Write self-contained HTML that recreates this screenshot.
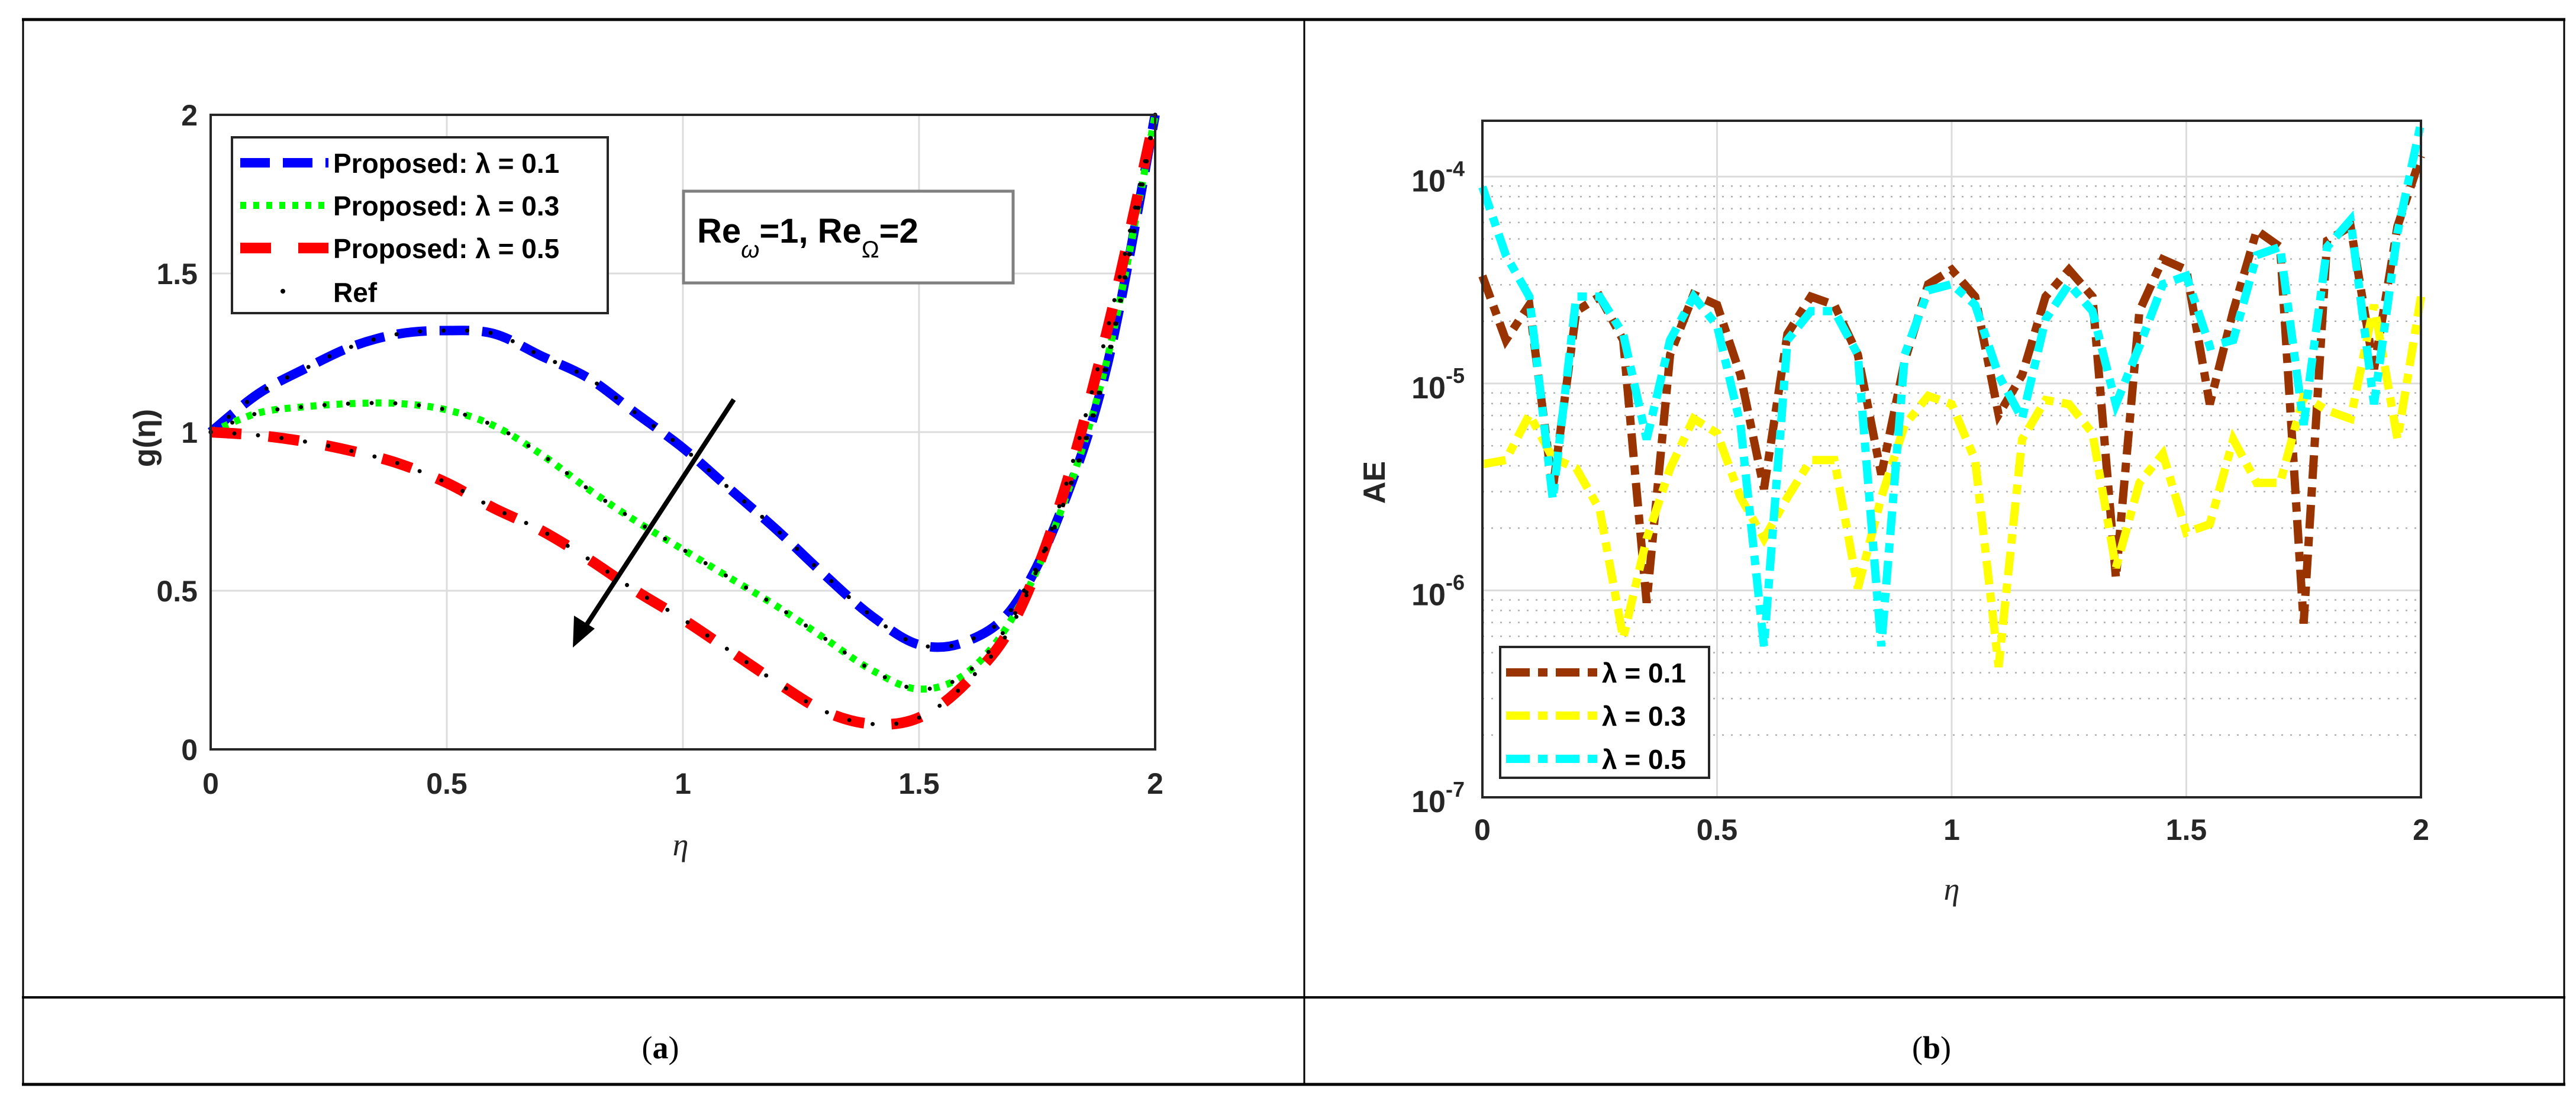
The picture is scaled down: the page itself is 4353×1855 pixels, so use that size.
<!DOCTYPE html>
<html><head><meta charset="utf-8"><style>
html,body{margin:0;padding:0;background:#fff;}
svg{display:block;font-family:"Liberation Sans",sans-serif;}
</style></head><body>
<svg id="fig" width="4353" height="1855" viewBox="0 0 4353 1855" xmlns="http://www.w3.org/2000/svg">
<g stroke="#000" fill="none">
<line x1="37" y1="33" x2="4335" y2="33" stroke-width="5"/>
<line x1="37" y1="1832" x2="4335" y2="1832" stroke-width="5"/>
<line x1="37" y1="1685" x2="4335" y2="1685" stroke-width="4"/>
<line x1="39" y1="31" x2="39" y2="1834" stroke-width="3"/>
<line x1="2204" y1="31" x2="2204" y2="1834" stroke-width="3"/>
<line x1="4333" y1="31" x2="4333" y2="1834" stroke-width="3"/>
</g>
<text x="1116" y="1788" font-family="Liberation Serif,serif" font-size="54" text-anchor="middle">(<tspan font-weight="bold">a</tspan>)</text>
<text x="3264" y="1788" font-family="Liberation Serif,serif" font-size="54" text-anchor="middle">(<tspan font-weight="bold">b</tspan>)</text>
<g id="plotA"></g>
<g id="plotB"></g>
</svg>
<script>
// ---- Plot A data ----
const etaA = [0,0.1,0.2,0.3,0.4,0.5,0.6,0.7,0.8,0.9,1.0,1.1,1.2,1.3,1.4,1.5,1.6,1.7,1.8,1.9,2.0];
const gL01 = [1.0,1.12,1.20,1.27,1.31,1.32,1.31,1.24,1.17,1.06,0.95,0.82,0.69,0.55,0.42,0.33,0.34,0.45,0.75,1.22,2.0];
const gL03 = [1.0,1.06,1.08,1.09,1.09,1.07,1.02,0.93,0.82,0.72,0.63,0.54,0.45,0.35,0.25,0.19,0.24,0.42,0.75,1.24,2.0];
const gL05 = [1.0,0.99,0.97,0.94,0.90,0.84,0.76,0.69,0.60,0.50,0.41,0.31,0.21,0.12,0.08,0.10,0.21,0.40,0.78,1.33,2.0];
const xTicksA = [0,0.5,1,1.5,2];
const yTicksA = [0,0.5,1,1.5,2];
const xTickLabelsA = ["0","0.5","1","1.5","2"];
const yTickLabelsA = ["0","0.5","1","1.5","2"];
// ---- Plot B data (log10 of AE) ----
const etaB = [0,0.05,0.1,0.15,0.2,0.25,0.3,0.35,0.4,0.45,0.5,0.55,0.6,0.65,0.7,0.75,0.8,0.85,0.9,0.95,1.0,1.05,1.1,1.15,1.2,1.25,1.3,1.35,1.4,1.45,1.5,1.55,1.6,1.65,1.7,1.75,1.8,1.85,1.9,1.95,2.0];
const aeLogL01 = [-4.48,-4.79,-4.62,-5.51,-4.65,-4.58,-4.79,-6.06,-4.86,-4.57,-4.62,-4.96,-5.51,-4.76,-4.58,-4.62,-4.86,-5.44,-4.89,-4.52,-4.45,-4.58,-5.15,-4.96,-4.58,-4.45,-4.58,-5.94,-4.65,-4.40,-4.45,-5.10,-4.65,-4.26,-4.34,-6.16,-4.31,-4.24,-4.93,-4.24,-3.90];
const aeLogL03 = [-5.39,-5.37,-5.15,-5.36,-5.41,-5.61,-6.23,-5.75,-5.41,-5.17,-5.24,-5.55,-5.75,-5.55,-5.37,-5.37,-5.99,-5.55,-5.20,-5.06,-5.10,-5.37,-6.37,-5.27,-5.08,-5.10,-5.24,-5.89,-5.48,-5.34,-5.72,-5.68,-5.27,-5.48,-5.48,-5.06,-5.13,-5.17,-4.62,-5.27,-4.58];
const aeLogL05 = [-4.05,-4.38,-4.58,-5.56,-4.58,-4.58,-4.76,-5.27,-4.79,-4.58,-4.72,-5.20,-6.27,-4.79,-4.65,-4.65,-4.86,-6.27,-4.86,-4.55,-4.52,-4.62,-4.96,-5.17,-4.69,-4.52,-4.65,-5.10,-4.82,-4.52,-4.48,-4.82,-4.79,-4.38,-4.34,-5.20,-4.34,-4.21,-5.10,-4.27,-3.74];
const yDecadesB = [-7,-6,-5,-4];
const xTicksB = [0,0.5,1,1.5,2];
const xTickLabelsB = ["0","0.5","1","1.5","2"];

const NS="http://www.w3.org/2000/svg";
function mk(parent,tag,attrs,text){const e=document.createElementNS(NS,tag);for(const k in attrs)e.setAttribute(k,attrs[k]);if(text!==undefined)e.textContent=text;parent.appendChild(e);return e;}

// ================= Plot A =================
const A=document.getElementById('plotA');
const AL=356,AR=1952,AT=194,AB=1266;
const ax=v=>AL+(v-0)/(2-0)*(AR-AL);
const ay=v=>AB-(v-0)/(2-0)*(AB-AT);
mk(A,'rect',{x:AL,y:AT,width:AR-AL,height:AB-AT,fill:'#fff'});
xTicksA.forEach((t,i)=>{
  const g=mk(A,'line',{x1:ax(t),y1:AT,x2:ax(t),y2:AB,stroke:'#dcdcdc','stroke-width':3});
  
  
  const l=mk(A,'text',{x:ax(t),y:AB+75,'font-size':50,'font-weight':'bold','text-anchor':'middle',fill:'#262626'},xTickLabelsA[i]);
  
  
});
yTicksA.forEach((t,i)=>{
  const g=mk(A,'line',{x1:AL,y1:ay(t),x2:AR,y2:ay(t),stroke:'#dcdcdc','stroke-width':3});
  
  
  const l=mk(A,'text',{x:AL-22,y:ay(t)+18,'font-size':50,'font-weight':'bold','text-anchor':'end',fill:'#262626'},yTickLabelsA[i]);
  
  
});
function smoothPath(xs,ys,fx,fy){
  const p=xs.map((x,i)=>[fx(x),fy(ys[i])]);
  let d=`M${p[0][0]},${p[0][1]}`;
  for(let i=0;i<p.length-1;i++){
    const p0=p[i-1]||p[i],p1=p[i],p2=p[i+1],p3=p[i+2]||p2;
    const c1=[p1[0]+(p2[0]-p0[0])/6,p1[1]+(p2[1]-p0[1])/6];
    const c2=[p2[0]-(p3[0]-p1[0])/6,p2[1]-(p3[1]-p1[1])/6];
    d+=` C${c1[0]},${c1[1]} ${c2[0]},${c2[1]} ${p2[0]},${p2[1]}`;
  }
  return d;
}
const seriesA=[
  {ys:gL01,color:'#0000ff',dash:'50 22',w:16,name:'curve-lambda-0-1'},
  {ys:gL03,color:'#00ff00',dash:'10 12',w:12,name:'curve-lambda-0-3'},
  {ys:gL05,color:'#ff0000',dash:'52 46',w:18,name:'curve-lambda-0-5'}
];
seriesA.forEach(s=>{
  const p=mk(A,'path',{d:smoothPath(etaA,s.ys,ax,ay),fill:'none',stroke:s.color,'stroke-width':s.w,'stroke-dasharray':s.dash});
  
  
});
// reference dots along each curve (sampled on smooth path)
seriesA.forEach(s=>{
  const tmp=mk(A,'path',{d:smoothPath(etaA,s.ys,ax,ay),fill:'none',stroke:'none'});
  const L=tmp.getTotalLength();
  const n=Math.round(L/40);
  for(let k=0;k<=n;k++){
    const pt=tmp.getPointAtLength(L*k/n);
    const c=mk(A,'circle',{cx:pt.x,cy:pt.y,r:3.5,fill:'#000'});
    
    
  }
  tmp.remove();
});
mk(A,'rect',{x:AL,y:AT,width:AR-AL,height:AB-AT,fill:'none',stroke:'#262626','stroke-width':4});
// arrow
const arr=mk(A,'g',{});


mk(arr,'line',{x1:1240,y1:675,x2:985,y2:1065,stroke:'#000','stroke-width':8});
mk(arr,'polygon',{points:'968,1094 970,1040 1005,1062',fill:'#000'});
// axis labels
mk(A,'text',{x:1150,y:1445,'font-size':54,'font-style':'italic','font-family':'Liberation Serif,serif','text-anchor':'middle',fill:'#262626',},'η');
mk(A,'text',{x:0,y:0,'font-size':52,'font-weight':'bold','text-anchor':'middle',fill:'#262626',transform:'translate(262,740) rotate(-90)',},'g(η)');
// legend A
const LA=mk(A,'g',{});
mk(LA,'rect',{x:392,y:232,width:635,height:297,fill:'#fff',stroke:'#262626','stroke-width':4});
const legA=[['Proposed:  λ = 0.1','#0000ff','50 22',16],['Proposed:  λ = 0.3','#00ff00','10 12',12],['Proposed:  λ = 0.5','#ff0000','52 46',18]];
legA.forEach((e,i)=>{
  const y=275+i*72;
  const g=mk(LA,'g',{});
  
  
  mk(g,'line',{x1:406,y1:y,x2:555,y2:y,stroke:e[1],'stroke-width':e[3],'stroke-dasharray':e[2]});
  mk(g,'text',{x:563,y:y+17,'font-size':46,'font-weight':'bold',fill:'#000'},e[0]);
});
mk(LA,'circle',{cx:478,cy:492,r:4,fill:'#000'});
mk(LA,'text',{x:563,y:510,'font-size':46,'font-weight':'bold',fill:'#000'},'Ref');
// annotation
const an=mk(A,'g',{});
mk(an,'rect',{x:1155,y:323,width:557,height:155,fill:'#fff',stroke:'#808080','stroke-width':5});
const t=mk(an,'text',{x:1178,y:410,'font-size':58,'font-weight':'bold',fill:'#000'});
t.innerHTML='Re<tspan dy="25" font-size="40" font-weight="normal" font-style="italic">ω</tspan><tspan dy="-25">=1, Re</tspan><tspan dy="25" font-size="40" font-weight="normal">Ω</tspan><tspan dy="-25">=2</tspan>';

// ================= Plot B =================
const B=document.getElementById('plotB');
const BL=2505,BR=4091,BT=204,BB=1347;
const topLog=-3.73,botLog=-7;
const bx=v=>BL+(v-0)/(2-0)*(BR-BL);
const by=lv=>BB-(lv-botLog)/(topLog-botLog)*(BB-BT);
mk(B,'rect',{x:BL,y:BT,width:BR-BL,height:BB-BT,fill:'#fff'});
// minor grid
yDecadesB.forEach(d=>{
  for(let m=2;m<=9;m++){
    const lv=d+Math.log10(m);
    if(lv>topLog) continue;
    const g=mk(B,'line',{x1:BL,y1:by(lv),x2:BR,y2:by(lv),stroke:'#b0b0b0','stroke-width':2.5,'stroke-dasharray':'3 12'});
    
    
  }
});
yDecadesB.forEach(d=>{
  const g=mk(B,'line',{x1:BL,y1:by(d),x2:BR,y2:by(d),stroke:'#dcdcdc','stroke-width':3});
  
  
  const l=mk(B,'text',{x:BL-30,y:by(d)+25,'font-size':52,'font-weight':'bold','text-anchor':'end',fill:'#262626'});
  l.innerHTML='10<tspan dy="-26" font-size="36">'+d+'</tspan>';
  
  
});
xTicksB.forEach((tk,i)=>{
  const g=mk(B,'line',{x1:bx(tk),y1:BT,x2:bx(tk),y2:BB,stroke:'#dcdcdc','stroke-width':3});
  
  
  const l=mk(B,'text',{x:bx(tk),y:BB+72,'font-size':50,'font-weight':'bold','text-anchor':'middle',fill:'#262626'},xTickLabelsB[i]);
  
  
});
const seriesB=[
  {ys:aeLogL01,color:'#993300',name:'ae-lambda-0-1'},
  {ys:aeLogL03,color:'#ffff00',name:'ae-lambda-0-3'},
  {ys:aeLogL05,color:'#00ffff',name:'ae-lambda-0-5'}
];
seriesB.forEach(s=>{
  const d=etaB.map((x,i)=>(i?'L':'M')+bx(x)+','+by(s.ys[i])).join(' ');
  const p=mk(B,'path',{d:d,fill:'none',stroke:s.color,'stroke-width':14,'stroke-dasharray':'40 14 16 14','stroke-linejoin':'miter'});
  
  
});
mk(B,'rect',{x:BL,y:BT,width:BR-BL,height:BB-BT,fill:'none',stroke:'#262626','stroke-width':4});
mk(B,'text',{x:3298,y:1520,'font-size':54,'font-style':'italic','font-family':'Liberation Serif,serif','text-anchor':'middle',fill:'#262626',},'η');
mk(B,'text',{x:0,y:0,'font-size':52,'font-weight':'bold','text-anchor':'middle',fill:'#262626',transform:'translate(2340,815) rotate(-90)',},'AE');
const LB=mk(B,'g',{});
mk(LB,'rect',{x:2535,y:1093,width:353,height:221,fill:'#fff',stroke:'#262626','stroke-width':4});
const legB=[['λ = 0.1','#993300'],['λ = 0.3','#ffff00'],['λ = 0.5','#00ffff']];
legB.forEach((e,i)=>{
  const y=1136+i*73;
  const g=mk(LB,'g',{});
  
  
  mk(g,'line',{x1:2545,y1:y,x2:2700,y2:y,stroke:e[1],'stroke-width':14,'stroke-dasharray':'40 14 16 14'});
  mk(g,'text',{x:2707,y:y+17,'font-size':46,'font-weight':'bold',fill:'#000'},e[0]);
});
</script>
</body></html>
